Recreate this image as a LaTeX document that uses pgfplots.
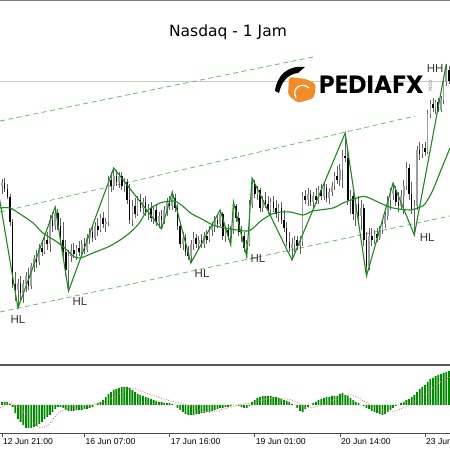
\documentclass[border=0pt]{standalone}
\usepackage{pgfplots}
\pgfplotsset{compat=1.18}
\usepackage{pgfplotstable}
\usepackage{fontspec}
\setmainfont{Liberation Sans}
\newfontfamily\titlefont{DejaVu Sans}
\newfontfamily\logofont{Poppins}

\definecolor{zz}{RGB}{25,140,25}
\definecolor{chan}{RGB}{105,190,105}
\definecolor{hist}{RGB}{0,140,0}
\definecolor{sig}{RGB}{245,115,115}
\definecolor{logoor}{RGB}{242,140,40}

% candle values are measured downward from the top of the chart (screen units)
\pgfplotstableread{
i o h l c m
0 186 179 194 183 3
1 183 178 192 189 3
2 189 184 199 197 3
3 197 194 226 222 1
4 222 219 288 284 -2
5 284 272 301 290 -8
6 290 279 308 283 -14
7 283 276 300 293 -17
8 293 280 303 284 -20
9 284 272 292 276 -23
10 276 268 290 286 -23
11 286 263 289 266 -23
12 266 255 272 258 -22
13 258 250 268 262 -21
14 262 244 265 248 -19
15 248 240 256 252 -17
16 252 236 254 240 -14
17 240 232 250 244 -12
18 244 215 252 220 -10
19 220 212 232 226 -7
20 226 207 230 213 -4
21 213 209 230 226 -2
22 226 218 244 240 -2
23 240 222 258 252 -3
24 252 240 276 270 -5
25 270 250 291 256 -6
26 256 244 262 250 -6
27 250 243 258 254 -6
28 254 245 260 248 -5
29 248 241 256 252 -5
30 252 240 258 244 -5
31 244 238 254 250 -4
32 250 234 252 238 -4
33 238 228 244 232 -3
34 232 226 242 238 -2
35 238 222 240 226 0
36 226 218 236 230 2
37 230 214 232 218 3
38 218 212 228 224 5
39 224 218 232 222 8
40 222 176 226 180 11
41 180 172 192 186 13
42 186 168 190 176 15
43 176 170 186 182 16
44 182 172 188 176 17
45 176 172 190 186 18
46 186 178 192 182 18
47 182 179 204 200 18
48 200 184 224 220 17
49 220 200 226 206 15
50 206 198 218 214 13
51 214 196 216 200 11
52 200 194 212 208 10
53 208 198 214 202 9
54 202 196 216 212 8
55 212 204 220 208 7
56 208 202 222 218 6
57 218 206 224 210 5
58 210 204 226 222 4
59 222 212 228 216 3
60 216 210 229 220 3
61 220 206 224 210 2
62 210 198 216 202 2
63 202 196 210 206 2
64 206 192 210 198 1
65 198 194 212 208 0
66 208 204 230 226 -3
67 226 222 248 244 -5
68 244 232 250 238 -7
69 238 234 256 252 -9
70 252 246 260 256 -10
71 256 240 263 244 -10
72 244 232 250 238 -10
73 238 234 248 244 -9
74 244 236 250 240 -9
75 240 234 248 244 -8
76 244 232 248 236 -8
77 236 230 244 240 -7
78 240 226 242 230 -7
79 230 222 236 226 -6
80 226 216 232 220 -5
81 220 214 228 224 -4
82 224 210 226 214 -3
83 214 212 240 236 -3
84 236 226 242 230 -2
85 230 224 240 236 -2
86 236 226 245 230 -1
87 230 202 234 206 0
88 206 204 222 218 0
89 218 212 236 232 -1
90 232 226 242 236 -2
91 236 232 252 248 -3
92 248 240 257 244 -3
93 244 200 246 204 -1
94 204 178 208 184 3
95 184 180 198 194 5
96 194 186 200 190 7
97 190 188 212 208 8
98 208 196 212 200 9
99 200 192 208 204 9
100 204 196 214 210 9
101 210 198 216 202 9
102 202 196 212 208 8
103 208 200 218 214 8
104 214 204 222 208 7
105 208 202 224 220 6
106 220 210 232 228 5
107 228 222 246 242 4
108 242 232 252 248 3
109 248 238 260 244 1
110 244 236 252 240 0
111 240 236 250 246 -3
112 246 236 254 242 -6
113 242 192 246 196 -7
114 196 190 204 200 -4
115 200 188 206 194 -2
116 194 190 206 202 0
117 202 192 208 196 2
118 196 188 204 200 3
119 200 186 204 190 5
120 190 184 200 196 6
121 196 182 200 188 7
122 188 184 202 198 8
123 198 188 204 192 8
124 192 182 196 186 9
125 186 172 190 176 9
126 176 166 184 180 9
127 180 164 186 170 11
128 170 150 188 156 12
129 156 133 162 158 10
130 158 150 205 200 9
131 200 190 214 196 7
132 196 192 220 214 5
133 214 198 226 204 3
134 204 196 222 216 2
135 216 200 230 208 0
136 208 204 246 240 -1
137 240 232 276 266 -3
138 266 228 270 236 -4
139 236 228 246 240 -6
140 240 230 244 234 -7
141 234 228 242 238 -8
142 238 226 240 230 -9
143 230 220 234 224 -10
144 224 212 228 216 -9
145 216 196 220 200 -7
146 200 188 210 194 -5
147 194 183 200 190 -3
148 190 186 206 202 -1
149 202 192 212 206 0
150 206 190 210 196 2
151 196 180 214 186 3
152 186 162 190 168 5
153 168 164 200 194 6
154 194 182 214 210 8
155 210 200 235 206 10
156 206 146 210 150 13
157 150 142 160 154 16
158 154 144 158 148 18
159 148 142 156 152 20
160 152 110 154 114 23
161 114 100 118 104 26
162 104 98 112 108 27
163 108 100 114 102 29
164 102 98 112 110 30
165 110 96 112 100 31
166 100 78 104 82 32
167 82 64 86 70 33
168 70 66 84 81 34
}\candles

\pgfplotstableread{
i s
-0.75 -3
3.6 2
9.3 -10
13.7 -22
17.4 -20
21.2 -8
25.6 -3
36.8 2
41.7 7
48.1 17
53 13
62 5
69.5 0
77.1 -7
82 -5
88.7 0
93.2 2
97.7 5
102.6 7
109 5
113.9 -2
117.7 -2
122.6 3
127.8 8
131.6 10
136.5 3
141.4 -3
145.1 -7
148.9 -5
154.1 2
159 10
163.9 22
167.7 27
168.4 28
}\signal

\begin{document}
\begin{tikzpicture}
\useasboundingbox (0pt,0pt) rectangle (450pt,450pt);

\begin{axis}[at={(0pt,85pt)}, anchor=south west, scale only axis,
  width=450pt, height=363pt,
  xmin=-0.75, xmax=168.4, ymin=85, ymax=448,
  y filter/.expression={450-y},
  axis lines=none, clip=true]
  % current price line
  \addplot[black!20, line width=0.8pt] coordinates {(-1,81) (170,81)};
  % channel lines
  \addplot[chan, line width=0.8pt, dash pattern=on 5pt off 3.5pt] coordinates {(-0.75,121) (116.9,57)};
  \addplot[chan, line width=0.8pt, dash pattern=on 5pt off 3.5pt] coordinates {(-0.75,212) (155.3,116)};
  \addplot[chan, line width=0.8pt, dash pattern=on 5pt off 3.5pt] coordinates {(-0.75,312) (168.4,216)};
  % wicks
  \addplot[draw=none, mark=none, error bars/.cd, y dir=both, y explicit, error mark=none,
    error bar style={draw=black!62, line width=0.75pt}]
    table[x=i, y expr={(\thisrow{h}+\thisrow{l})/2}, y error expr={(\thisrow{l}-\thisrow{h})/2}] {\candles};
  % bull bodies
  \addplot[draw=none, mark=none, error bars/.cd, y dir=both, y explicit, error mark=none,
    error bar style={draw=black!38, line width=1.6pt}]
    table[x=i, y expr={(\thisrow{o}+\thisrow{c})/2}, y error expr={max(\thisrow{o}-\thisrow{c},0)/2}] {\candles};
  % bear bodies
  \addplot[draw=none, mark=none, error bars/.cd, y dir=both, y explicit, error mark=none,
    error bar style={draw=black, line width=1.6pt}]
    table[x=i, y expr={(\thisrow{o}+\thisrow{c})/2}, y error expr={max(\thisrow{c}-\thisrow{o},0)/2}] {\candles};
  % moving average
  \addplot[zz, line width=1.1pt, smooth] coordinates {
    (-0.75,208) (3.0,208) (6.8,214) (11.7,223) (15.4,233) (20.7,242) (24.4,250) (26.7,256)
    (29.3,258) (34.2,253) (40.6,246) (45.5,238) (49.2,230) (51.9,222) (54.5,211) (59.4,203)
    (64.3,201) (66.9,204) (71.4,214) (74.4,218) (79.3,225) (83.8,228) (91.4,231) (94,229)
    (97.7,220) (102.6,213) (108.3,212) (113.2,215) (116.9,211) (124.4,208) (128.2,203)
    (134.6,197) (137.2,197) (142.1,203) (147,208) (153.4,210) (157.1,207) (159,204)
    (162,190) (164.7,172) (168.4,148)};
  % zigzag
  \addplot[zz, line width=1.1pt] coordinates {
    (-2,182) (6,308) (20,207) (25,291) (42,168) (60,229) (64,192) (71,263) (82,210)
    (86,245) (87,202) (92,257) (94,178) (109,260) (129,133) (137,276) (147,183) (155,235) (167,64)};
  % labels
  \begin{scope}[every node/.style={font=\fontsize{11.5}{12}\selectfont, text=black!80, inner sep=0pt}]
    \node at (axis cs:6,130) {HL};
    \node at (axis cs:29.3,148) {HL};
    \node at (axis cs:75.2,176) {HL};
    \node at (axis cs:96.2,191) {HL};
    \node at (axis cs:159.8,212.5) {HL};
    \node at (axis cs:162.8,381.5) {HH};
  \end{scope}
\end{axis}

\begin{axis}[at={(0pt,17pt)}, anchor=south west, scale only axis,
  width=450pt, height=67pt,
  xmin=-0.75, xmax=168.4, ymin=-28, ymax=39,
  axis x line=bottom, axis y line=none,
  x axis line style={-, black!70, line width=0.6pt},
  xtick={0,31,63,95,127,159},
  xticklabels={12 Jun 21:00, 16 Jun 07:00, 17 Jun 16:00, 19 Jun 01:00, 20 Jun 14:00, 23 Jun 03:00},
  tick align=outside, major tick length=4pt,
  tick style={black!70, line width=0.6pt},
  xticklabel style={anchor=north west, inner sep=0pt, xshift=1pt, yshift=-1.5pt,
    font=\fontsize{8.6}{9}\selectfont},
  ytick=\empty, clip=true]
  \addplot[ybar, bar width=1.8pt, bar shift=0pt, fill=hist, draw=none] table[x=i, y=m] {\candles};
  \addplot[sig, line width=0.9pt, dash pattern=on 0.9pt off 1.6pt, smooth] table[x=i, y=s] {\signal};
\end{axis}

% frame lines
\draw[black!50, line width=1.4pt] (0pt,449.3pt) -- (450pt,449.3pt);
\draw[black!65, line width=2.2pt] (0pt,84.6pt) -- (450pt,84.6pt);

% title
\node[anchor=base, inner sep=0pt] at (228pt,413pt) {\titlefont\fontsize{15.5}{16}\selectfont Nasdaq - 1 Jam};

% logo
\begin{scope}[x=1pt,y=1pt]
\fill[logoor, rounded corners=3pt] (289,373) -- (306,371) -- (316,366) -- (314,352) -- (298,347) -- (288,355) -- cycle;
\draw[white, line width=1.3pt] (296,352) .. controls (291,361) and (301,369) .. (309,362);
\fill[black] (275,359) .. controls (277,375) and (288,385) .. (305,383) -- (298,377)
  .. controls (289,376) and (282,370) .. (279,357) -- cycle;
\node[anchor=base west, inner sep=0pt] at (319,356) {\logofont\bfseries\fontsize{25}{25}\selectfont PEDIAFX};
\node[rotate=-90, inner sep=0pt, text=black!60] at (430.5,365) {\fontsize{4.5}{5}\selectfont .COM};
\end{scope}
\end{tikzpicture}
\end{document}
